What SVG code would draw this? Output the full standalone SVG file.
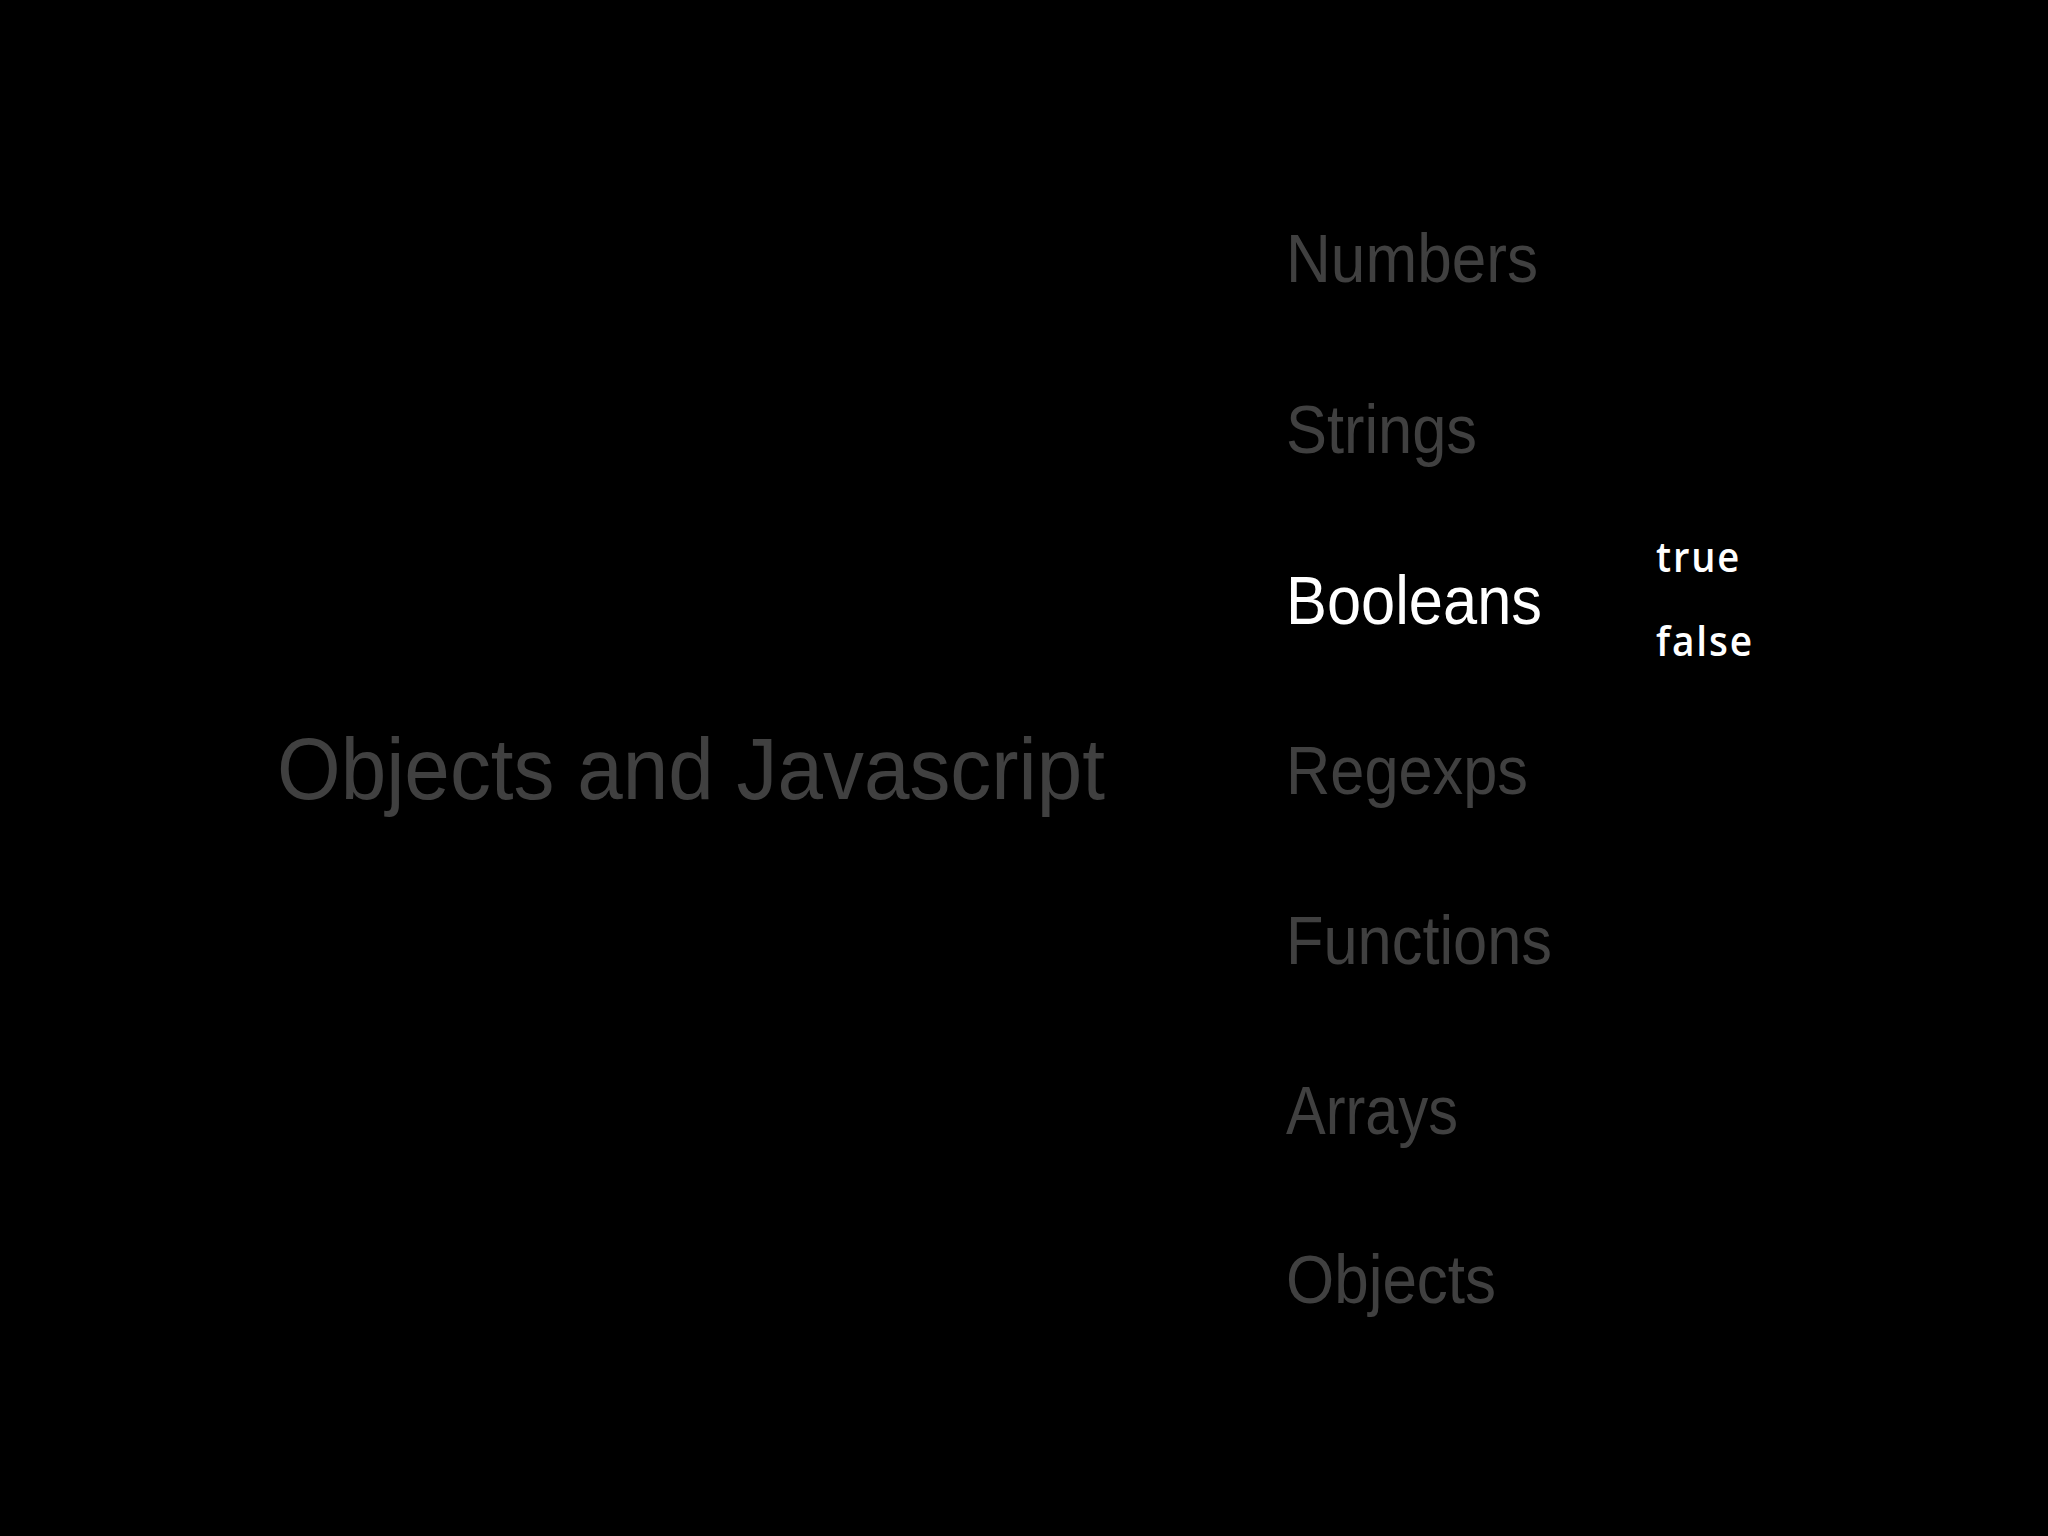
<svg xmlns="http://www.w3.org/2000/svg" width="2048" height="1536" viewBox="0 0 2048 1536">
<style>
.t{font-family:"Liberation Sans",Arial,sans-serif;fill:#404040}
.i{font-size:68px}
.w{fill:#ffffff}
.s{font-family:"Open Sans",sans-serif;font-size:42px;font-weight:600;fill:#ffffff;letter-spacing:2px}
</style>
<rect width="2048" height="1536" fill="#000"/>
<g id="title"><text class="t" x="277" y="799" font-size="87" textLength="828" lengthAdjust="spacingAndGlyphs">Objects and Javascript</text></g>
<g id="numbers"><text class="t i" x="1286" y="282" textLength="252" lengthAdjust="spacingAndGlyphs">Numbers</text></g>
<g id="strings"><text class="t i" x="1286" y="453" textLength="191" lengthAdjust="spacingAndGlyphs">Strings</text></g>
<g id="booleans"><text class="t i w" x="1286" y="624" textLength="256" lengthAdjust="spacingAndGlyphs">Booleans</text></g>
<g id="true"><text class="s" x="1656" y="572" textLength="85" lengthAdjust="spacingAndGlyphs">true</text></g>
<g id="false"><text class="s" x="1656" y="656" textLength="98" lengthAdjust="spacingAndGlyphs">false</text></g>
<g id="regexps"><text class="t i" x="1286" y="794" textLength="242" lengthAdjust="spacingAndGlyphs">Regexps</text></g>
<g id="functions"><text class="t i" x="1286" y="964" textLength="266" lengthAdjust="spacingAndGlyphs">Functions</text></g>
<g id="arrays"><text class="t i" x="1286" y="1134" textLength="172" lengthAdjust="spacingAndGlyphs">Arrays</text></g>
<g id="objects"><text class="t i" x="1286" y="1303" textLength="210" lengthAdjust="spacingAndGlyphs">Objects</text></g>
<g id="connectors"/>
</svg>
